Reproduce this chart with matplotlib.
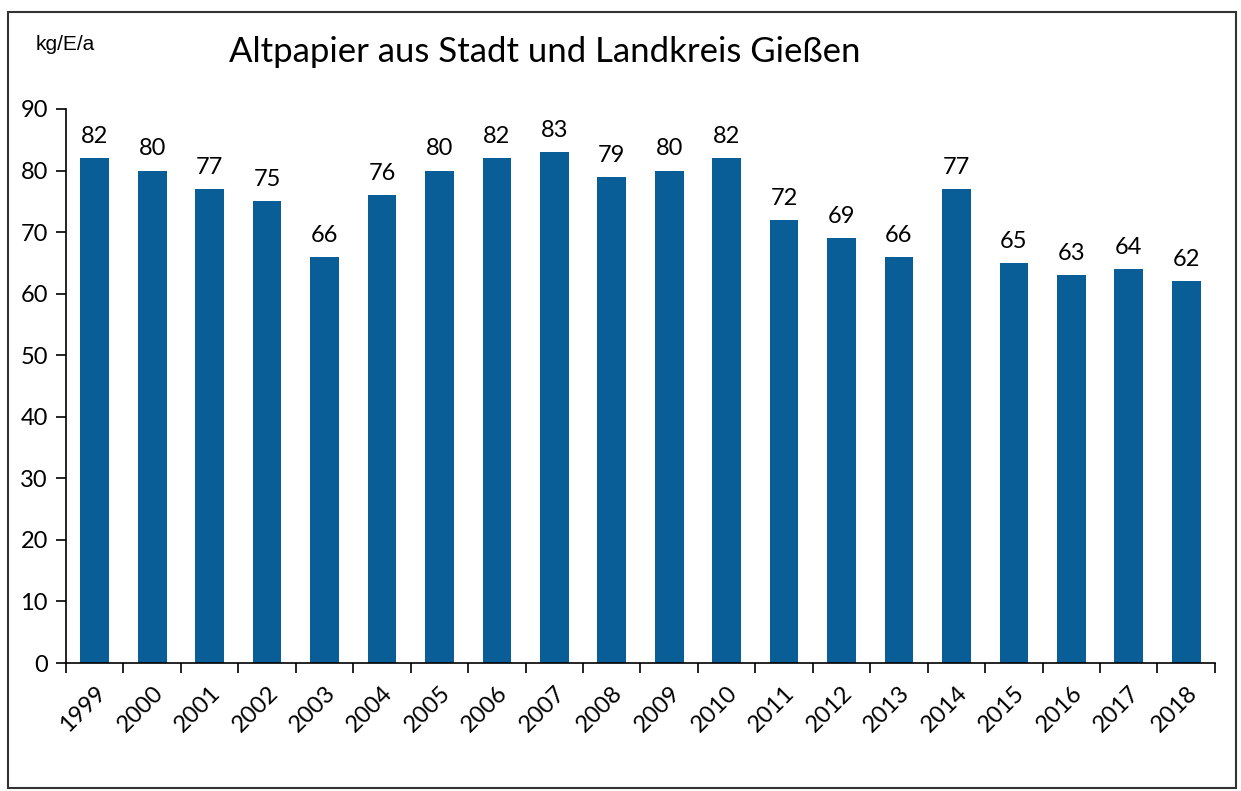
import matplotlib.pyplot as plt
import numpy as np
from matplotlib.patches import Rectangle

years = [str(y) for y in range(1999, 2019)]
values = [82, 80, 77, 75, 66, 76, 80, 82, 83, 79, 80, 82, 72, 69, 66, 77, 65, 63, 64, 62]

bar_color = '#0a5e97'
font = 'Lato'

fig = plt.figure(figsize=(12.41, 7.91), dpi=100)
ax = fig.add_axes([0.0532, 0.1618, 0.9258, 0.7004])

x = np.arange(len(years))
ax.bar(x, values, width=0.5, color=bar_color)

for xi, v in zip(x, values):
    ax.annotate(str(v), (xi, v), xytext=(0, 8), textcoords='offset points',
                ha='center', va='bottom', fontsize=17, family=font)

ax.set_xlim(-0.5, len(years) - 0.5)
ax.set_ylim(0, 90)
ax.set_yticks(range(0, 91, 10))
ax.set_yticklabels([str(t) for t in range(0, 91, 10)], fontsize=17, family=font)
ax.set_xticks(x)
ax.set_xticklabels(years, rotation=45, ha='right', rotation_mode='anchor',
                   fontsize=17, family=font)
ax.set_xticks(np.arange(-0.5, len(years)), minor=True)
ax.tick_params(axis='x', which='major', length=0, pad=14)
ax.tick_params(axis='x', which='minor', length=7, width=1.2, direction='out')
ax.tick_params(axis='y', length=7, width=1.2, direction='out', pad=6)

for s in ['top', 'right']:
    ax.spines[s].set_visible(False)
ax.spines['left'].set_linewidth(1.2)
ax.spines['bottom'].set_linewidth(1.2)

fig.text(545 / 1241, 1 - 52 / 791, 'Altpapier aus Stadt und Landkreis Gießen',
         ha='center', va='center', fontsize=25, family=font)
fig.text(36 / 1241, 1 - 45 / 791, 'kg/E/a', ha='left', va='center',
         fontsize=15, family='Liberation Sans')

fig.patches.append(Rectangle((8 / 1241, 3 / 791), 1228 / 1241, 776 / 791,
                             transform=fig.transFigure, fill=False,
                             edgecolor='#333333', linewidth=1.5))

fig.savefig('out.png', dpi=100)
